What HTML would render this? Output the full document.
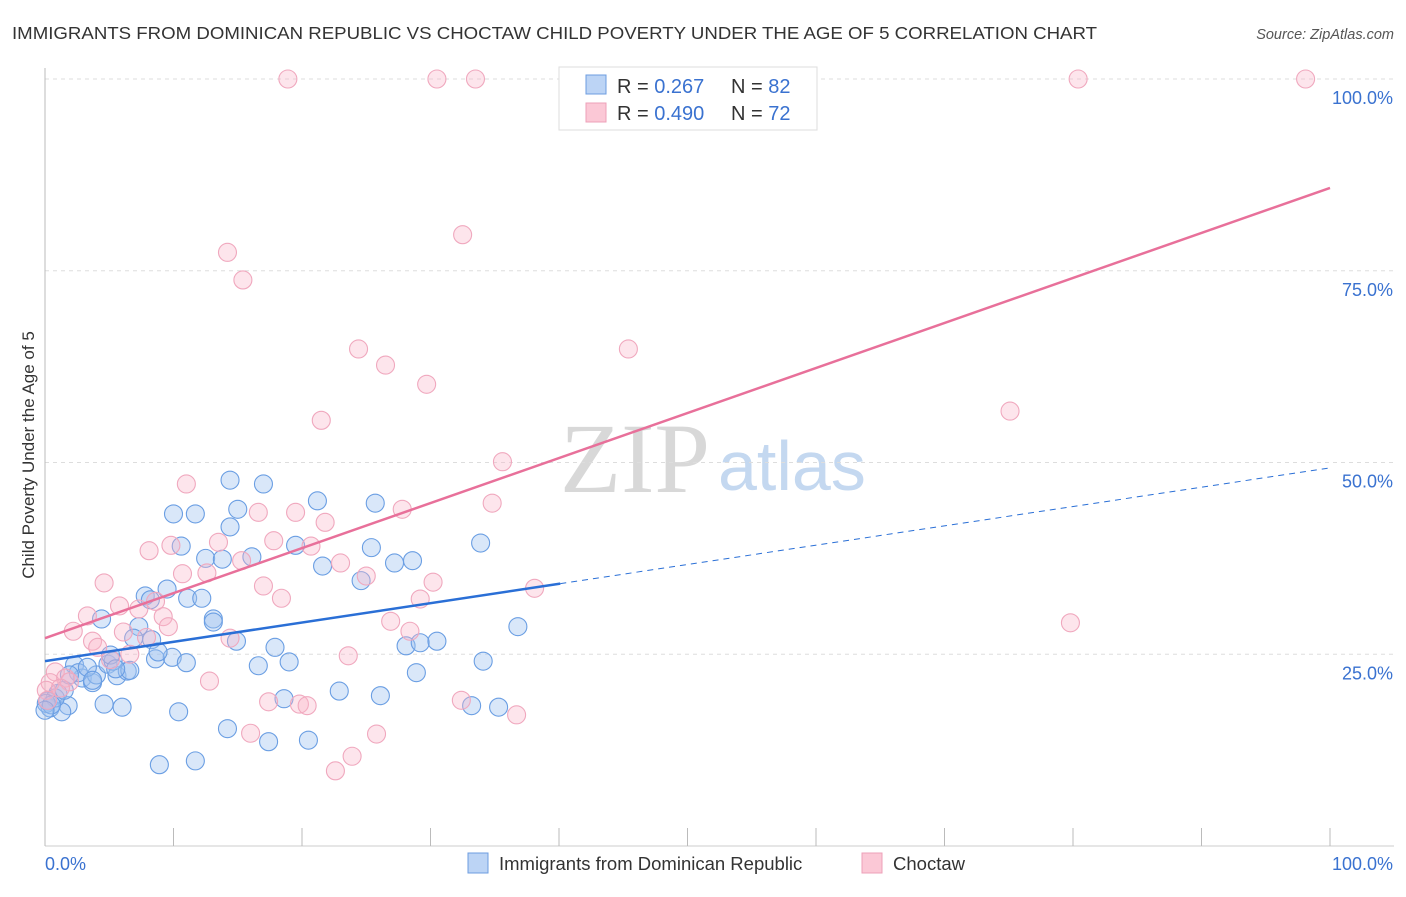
<!DOCTYPE html>
<html><head><meta charset="utf-8"><style>
body{margin:0;background:#fff;font-family:"Liberation Sans",sans-serif}
svg text{font-family:"Liberation Sans",sans-serif}
</style></head><body>
<svg id="chart" width="1406" height="892">
<text x="12" y="39" font-size="17.5" fill="#333" textLength="1085" lengthAdjust="spacingAndGlyphs">IMMIGRANTS FROM DOMINICAN REPUBLIC VS CHOCTAW CHILD POVERTY UNDER THE AGE OF 5 CORRELATION CHART</text>
<text x="1394" y="39" font-size="14.5" fill="#555" text-anchor="end" font-style="italic">Source: ZipAtlas.com</text>
<text x="635" y="492" font-size="100" fill="#d8d8d8" text-anchor="middle" style="font-family:'Liberation Serif',serif">ZIP</text>
<text x="718" y="490" font-size="70" fill="#c4d8f0">atlas</text>
<text transform="translate(34,455) rotate(-90)" font-size="17" fill="#333" text-anchor="middle">Child Poverty Under the Age of 5</text>
<g id="grid"></g><g id="pts"></g><g id="lines"></g>
<g>
<rect x="559" y="67" width="258" height="63" fill="#fff" stroke="#ddd"/>
<rect x="586" y="75" width="20" height="19" fill="#bcd4f5" stroke="#6d9de0"/>
<rect x="586" y="103" width="20" height="19" fill="#fbc8d6" stroke="#eea0b8"/>
<text x="617" y="93" font-size="20" fill="#333">R = <tspan fill="#3a72d0"> 0.267</tspan></text>
<text x="731" y="93" font-size="20" fill="#333">N = <tspan fill="#3a72d0">82</tspan></text>
<text x="617" y="120" font-size="20" fill="#333">R = <tspan fill="#3a72d0">0.490</tspan></text>
<text x="731" y="120" font-size="20" fill="#333">N = <tspan fill="#3a72d0">72</tspan></text>
</g>
<g>
<rect x="468" y="853" width="20" height="20" fill="#bcd4f5" stroke="#6d9de0"/>
<text x="499" y="870" font-size="18.5" fill="#333">Immigrants from Dominican Republic</text>
<rect x="862" y="853" width="20" height="20" fill="#fbc8d6" stroke="#eea0b8"/>
<text x="893" y="870" font-size="18.5" fill="#333">Choctaw</text>
</g>
</svg>
<script>
const blueX=[14.4,17.0,10.0,11.7,15.0,21.2,25.7,14.4,10.6,12.5,13.8,16.1,19.5,25.4,21.6,27.2,28.6,33.9,7.8,9.5,8.2,11.1,12.2,13.1,24.6,4.4,7.3,6.9,8.3,13.1,14.9,17.9,16.6,19.0,28.1,29.2,30.5,36.8,34.1,28.9,22.9,26.1,18.6,14.2,17.4,20.5,8.9,11.7,10.4,4.6,6.0,33.2,35.3,1.0,1.8,0.4,1.3,0.2,0.8,2.3,2.9,3.7,4.0,4.9,5.6,6.4,6.6,8.6,9.9,11.0,5.3,2.6,3.3,3.7,1.5,5.1,8.8,5.5,0.1,0.5,0.0,1.9];
const blueY=[47.7,47.2,43.3,43.3,43.9,45.0,44.7,41.6,39.1,37.5,37.4,37.7,39.2,38.9,36.5,36.9,37.2,39.5,32.6,33.5,32.1,32.3,32.3,29.6,34.6,29.6,28.6,27.1,26.9,29.2,26.7,25.9,23.5,24.0,26.1,26.5,26.7,28.6,24.1,22.6,20.2,19.6,19.2,15.3,13.6,13.8,10.6,11.1,17.5,18.5,18.1,18.3,18.1,19.9,18.3,18.0,17.5,18.9,19.3,23.6,21.9,21.3,22.3,23.7,22.2,22.8,22.9,24.4,24.6,23.9,24.1,22.6,23.3,21.6,20.3,24.9,25.3,23.1,18.6,18.4,17.7,22.3];
const pinkX=[18.9,30.5,33.5,80.4,98.1,32.5,14.2,15.4,24.4,26.5,45.4,29.7,21.5,75.1,35.6,11.0,16.6,19.5,27.8,21.8,34.8,9.8,13.5,17.8,20.7,8.1,15.3,23.0,25.0,30.2,10.7,12.6,17.0,18.4,29.2,4.6,5.8,8.6,7.3,9.2,9.6,26.9,28.4,3.3,2.2,3.7,4.1,6.1,7.9,6.6,5.1,14.4,23.6,12.8,0.8,1.6,1.9,0.4,0.1,17.4,19.8,20.4,32.4,36.7,38.1,79.8,16.0,25.8,23.9,22.6,0.2,1.2];
const pinkY=[100,100,100,100,100,79.7,77.4,73.8,64.8,62.7,64.8,60.2,55.5,56.7,50.1,47.2,43.5,43.5,43.9,42.2,44.7,39.2,39.6,39.8,39.1,38.5,37.2,36.9,35.2,34.4,35.5,35.6,33.9,32.3,32.2,34.3,31.3,31.9,30.9,29.9,28.6,29.3,28.0,30.0,28.0,26.7,25.9,27.9,27.2,25.0,24.3,27.1,24.8,21.5,22.7,21.9,21.4,21.3,20.3,18.8,18.5,18.3,19.0,17.1,33.6,29.1,14.7,14.6,11.7,9.8,19.0,20.6];
const yTicks=[25,50,75,100];
const yTickLabels=["25.0%","50.0%","75.0%","100.0%"];
const blueLine=[24.1,49.3]; const blueSolidEnd=40.1;
const pinkLine=[27.1,85.8];
const NS="http://www.w3.org/2000/svg";
const sx=v=>45+v*12.85, sy=v=>846-v*7.67;
function mk(tag,attrs,parent){const e=document.createElementNS(NS,tag);for(const k in attrs)e.setAttribute(k,attrs[k]);document.getElementById(parent).appendChild(e);return e;}
yTicks.forEach((t,i)=>{
 const g=mk('line',{x1:45,x2:1394,y1:sy(t),y2:sy(t),stroke:'#ddd','stroke-dasharray':'4,4'},'grid');
 
 
 const l=mk('text',{x:1393,y:sy(t)+25,'font-size':18,fill:'#3a72d0','text-anchor':'end'},'grid');l.textContent=yTickLabels[i];
 
 
});
const ax=mk('line',{x1:45,x2:1394,y1:846,y2:846,stroke:'#ccc'},'grid');


const ay=mk('line',{x1:45,x2:45,y1:68,y2:846,stroke:'#bbb'},'grid');


for(let i=0;i<=10;i++){const t=mk('line',{x1:sx(i*10),x2:sx(i*10),y1:828,y2:846,stroke:'#bbb'},'grid');
 
 }
[["0.0%",45,'start'],["100.0%",1393,'end']].forEach(a=>{const t=mk('text',{x:a[1],y:870,'font-size':18,fill:'#3a72d0','text-anchor':a[2]},'grid');t.textContent=a[0];
 
 });
blueX.forEach((x,i)=>{const c=mk('circle',{cx:sx(x),cy:sy(blueY[i]),r:9,fill:'rgba(160,196,240,0.4)',stroke:'#6a9ee3','stroke-width':1.1},'pts');
 
 });
pinkX.forEach((x,i)=>{const c=mk('circle',{cx:sx(x),cy:sy(pinkY[i]),r:9,fill:'rgba(248,180,200,0.35)',stroke:'#f0a8be','stroke-width':1.1},'pts');
 
 });
const bAt=x=>blueLine[0]+(blueLine[1]-blueLine[0])*x/100;
const b1=mk('line',{x1:sx(0),y1:sy(bAt(0)),x2:sx(blueSolidEnd),y2:sy(bAt(blueSolidEnd)),stroke:'#2a6fd6','stroke-width':2.5},'lines');


const b2=mk('line',{x1:sx(blueSolidEnd),y1:sy(bAt(blueSolidEnd)),x2:sx(100),y2:sy(bAt(100)),stroke:'#2a6fd6','stroke-width':1,'stroke-dasharray':'6,5'},'lines');


const p1=mk('line',{x1:sx(0),y1:sy(pinkLine[0]),x2:sx(100),y2:sy(pinkLine[1]),stroke:'#e8709a','stroke-width':2.5},'lines');


</script>
</body></html>
